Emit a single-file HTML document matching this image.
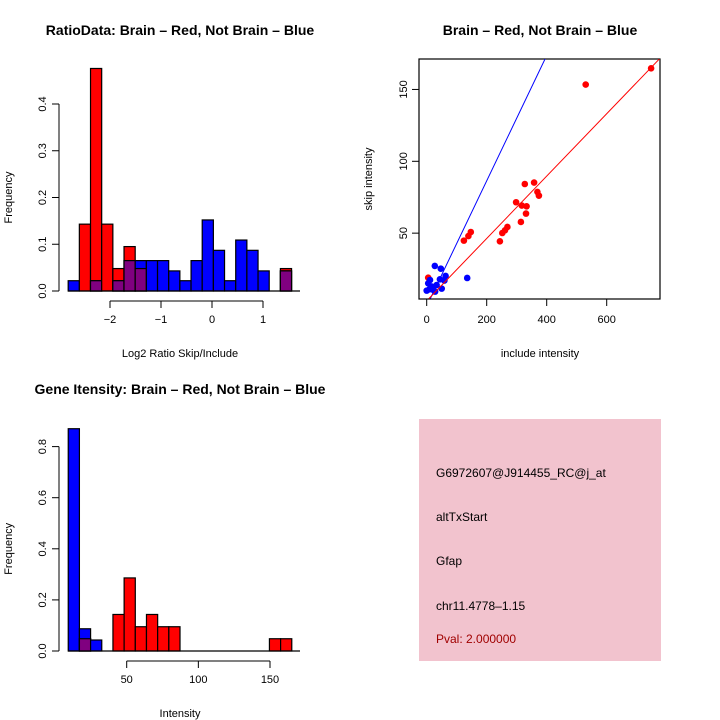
<!DOCTYPE html>
<html><head><meta charset="utf-8"><style>
html,body{margin:0;padding:0;background:#fff}
svg{display:block;font-family:"Liberation Sans",Helvetica,sans-serif}
</style></head><body>
<svg id="root" width="720" height="720" viewBox="0 0 720 720">
<g id="p1"></g>
<g id="p2"></g>
<g id="p3"></g>
<g id="p4">
<rect x="419" y="419" width="242" height="242" fill="#f2c3ce"/>
<text x="436" y="477" font-size="12">G6972607@J914455_RC@j_at</text>
<text x="436" y="521" font-size="12">altTxStart</text>
<text x="436" y="565" font-size="12">Gfap</text>
<text x="436" y="610" font-size="12">chr11.4778–1.15</text>
<text x="436" y="643" font-size="12" fill="#a00000">Pval: 2.000000</text>
</g>
</svg>
<script>
// ---- Histogram 1 data
const h1Start = -2.82, h1Width = 0.219;
const h1Red = [0,0.143,0.476,0.143,0.048,0.095,0.048,0,0,0,0,0,0,0,0,0,0,0,0,0.048];
const h1Blue = [0.022,0,0.022,0,0.022,0.065,0.065,0.065,0.065,0.043,0.022,0.065,0.152,0.087,0.022,0.109,0.087,0.043,0,0.043];
const h1XTicks = [-2,-1,0,1];
const h1YTicks = [0,0.1,0.2,0.3,0.4];
// ---- Histogram 2 data
const h2Start = 9.2, h2Width = 7.8;
const h2Red = [0,0.048,0,0,0.143,0.286,0.095,0.143,0.095,0.095,0,0,0,0,0,0,0,0,0.048,0.048];
const h2Blue = [0.87,0.087,0.043,0,0,0,0,0,0,0,0,0,0,0,0,0,0,0,0,0];
const h2XTicks = [50,100,150];
const h2YTicks = [0,0.2,0.4,0.6,0.8];
// ---- Scatter data
const redX = [748,530,358,327,369,374,298,317,333,331,314,269,261,252,244,147,139,124,5];
const redY = [164.7,153.4,85.2,84.2,78.7,76.1,71.5,69.2,68.7,63.6,57.8,54.3,52,50.1,44.3,50.8,48,44.8,19];
const blueX = [27,47,135,63,44,59,11,5,17,22,9,50,33,0,28];
const blueY = [27.2,25.3,18.8,20.2,17.9,17,17.4,15.1,12.8,10.5,10.9,11.4,13.9,10,9.3];
const redFit = [2.9,0.217];
const blueFit = [-0.8,0.436];
const scXTicks = [0,200,400,600];
const scYTicks = [50,100,150];

const NS="http://www.w3.org/2000/svg";
function mk(parent,tag,attrs){const e=document.createElementNS(NS,tag);for(const k in attrs)e.setAttribute(k,attrs[k]);parent.appendChild(e);return e;}
function txt(parent,x,y,s,size,extra){const t=mk(parent,'text',Object.assign({x:x,y:y,'font-size':size,'text-anchor':'middle'},extra||{}));t.textContent=s;return t;}

function hist(g,start,w,red,blue,xt,yt,xs,ys,baseL,baseR,axX,title,xlab,titleY){
  const n=red.length;
  for(let i=0;i<n;i++){
    const x0=xs(start+i*w),x1=xs(start+(i+1)*w);
    const draw=(v,col,nm)=>{if(v<=0)return;const r=mk(g,'rect',{x:x0,y:ys(v),width:x1-x0,height:ys(0)-ys(v),fill:col,stroke:'#000','stroke-width':1.2});
      
      };
    draw(red[i],'#ff0000','red');
    draw(blue[i],'#0000ff','blue');
    draw(Math.min(red[i],blue[i]),'#800080','overlap');
  }
  const bl=mk(g,'line',{x1:baseL,x2:baseR,y1:ys(0),y2:ys(0),stroke:'#000','stroke-width':1.2});
  
  
  const ay=ys(0)+10;
  const xa=mk(g,'g',{});
  
  
  mk(xa,'line',{x1:xs(xt[0]),x2:xs(xt[xt.length-1]),y1:ay,y2:ay,stroke:'#000'});
  xt.forEach(v=>{mk(xa,'line',{x1:xs(v),x2:xs(v),y1:ay,y2:ay+7,stroke:'#000'});txt(xa,xs(v),ay+22,String(v).replace('-','−'),11);});
  const ya=mk(g,'g',{});
  
  
  mk(ya,'line',{x1:axX,x2:axX,y1:ys(yt[0]),y2:ys(yt[yt.length-1]),stroke:'#000'});
  yt.forEach(v=>{mk(ya,'line',{x1:axX,x2:axX-7,y1:ys(v),y2:ys(v),stroke:'#000'});
    txt(ya,0,0,v.toFixed(1),11,{transform:`translate(${axX-13},${ys(v)}) rotate(-90)`});});
  const yl=txt(g,0,0,'Frequency',11,{transform:`translate(12,${(ys(yt[0])+ys(yt[yt.length-1]))/2}) rotate(-90)`});
  
  
  const xl=txt(g,180,ay+56,xlab,11);
  
  
  const tt=txt(g,180,titleY,title,14,{'font-weight':'bold'});
  
  
}
{
  const xs=v=>212+(v-0)*51, ys=v=>291-v*467.5;
  hist(document.getElementById('p1'),h1Start,h1Width,h1Red,h1Blue,h1XTicks,h1YTicks,xs,ys,68,300,59,'RatioData: Brain – Red, Not Brain – Blue','Log2 Ratio Skip/Include',35);
}
{
  const xs=v=>126.7+(v-50)*1.433, ys=v=>651-v*255.5;
  hist(document.getElementById('p3'),h2Start,h2Width,h2Red,h2Blue,h2XTicks,h2YTicks,xs,ys,68,300,59,'Gene Itensity: Brain – Red, Not Brain – Blue','Intensity',394);
}
{
  const g=document.getElementById('p2');
  const L=419,R=660,T=59,B=299;
  const xs=v=>426.7+v*0.3, ys=v=>305-v*1.437;
  const box=mk(g,'rect',{x:L,y:T,width:R-L,height:B-T,fill:'none',stroke:'#000','stroke-width':1.2});
  
  
  const clip=mk(g,'clipPath',{id:'clip2'});
  mk(clip,'rect',{x:L,y:T,width:R-L,height:B-T});
  const inner=mk(g,'g',{'clip-path':'url(#clip2)'});
  redX.forEach((x,i)=>{const c=mk(inner,'circle',{cx:xs(x),cy:ys(redY[i]),r:3.3,fill:'#ff0000'});
    
    });
  blueX.forEach((x,i)=>{const c=mk(inner,'circle',{cx:xs(x),cy:ys(blueY[i]),r:3.3,fill:'#0000ff'});
    
    });
  const fl=(f,col,nm)=>{const x0=-50,x1=900;const l=mk(inner,'line',{x1:xs(x0),y1:ys(f[0]+f[1]*x0),x2:xs(x1),y2:ys(f[0]+f[1]*x1),stroke:col,'stroke-width':1});
    
    };
  fl(blueFit,'#0000ff','not-brain-fit-line');
  fl(redFit,'#ff0000','brain-fit-line');
  const xa=mk(g,'g',{});
  
  
  mk(xa,'line',{x1:xs(scXTicks[0]),x2:xs(scXTicks[scXTicks.length-1]),y1:B,y2:B,stroke:'#000'});
  scXTicks.forEach(v=>{mk(xa,'line',{x1:xs(v),x2:xs(v),y1:B,y2:B+7,stroke:'#000'});txt(xa,xs(v),B+24,String(v),11);});
  const ya=mk(g,'g',{});
  
  
  scYTicks.forEach(v=>{mk(ya,'line',{x1:L,x2:L-7,y1:ys(v),y2:ys(v),stroke:'#000'});txt(ya,0,0,String(v),11,{transform:`translate(${L-12},${ys(v)}) rotate(-90)`});});
  const xl=txt(g,540,357,'include intensity',11);
  
  
  const yl=txt(g,0,0,'skip intensity',11,{transform:`translate(372,179) rotate(-90)`});
  
  
  const tt=txt(g,540,35,'Brain – Red, Not Brain – Blue',14,{'font-weight':'bold'});
  
  
}
</script>
</body></html>
